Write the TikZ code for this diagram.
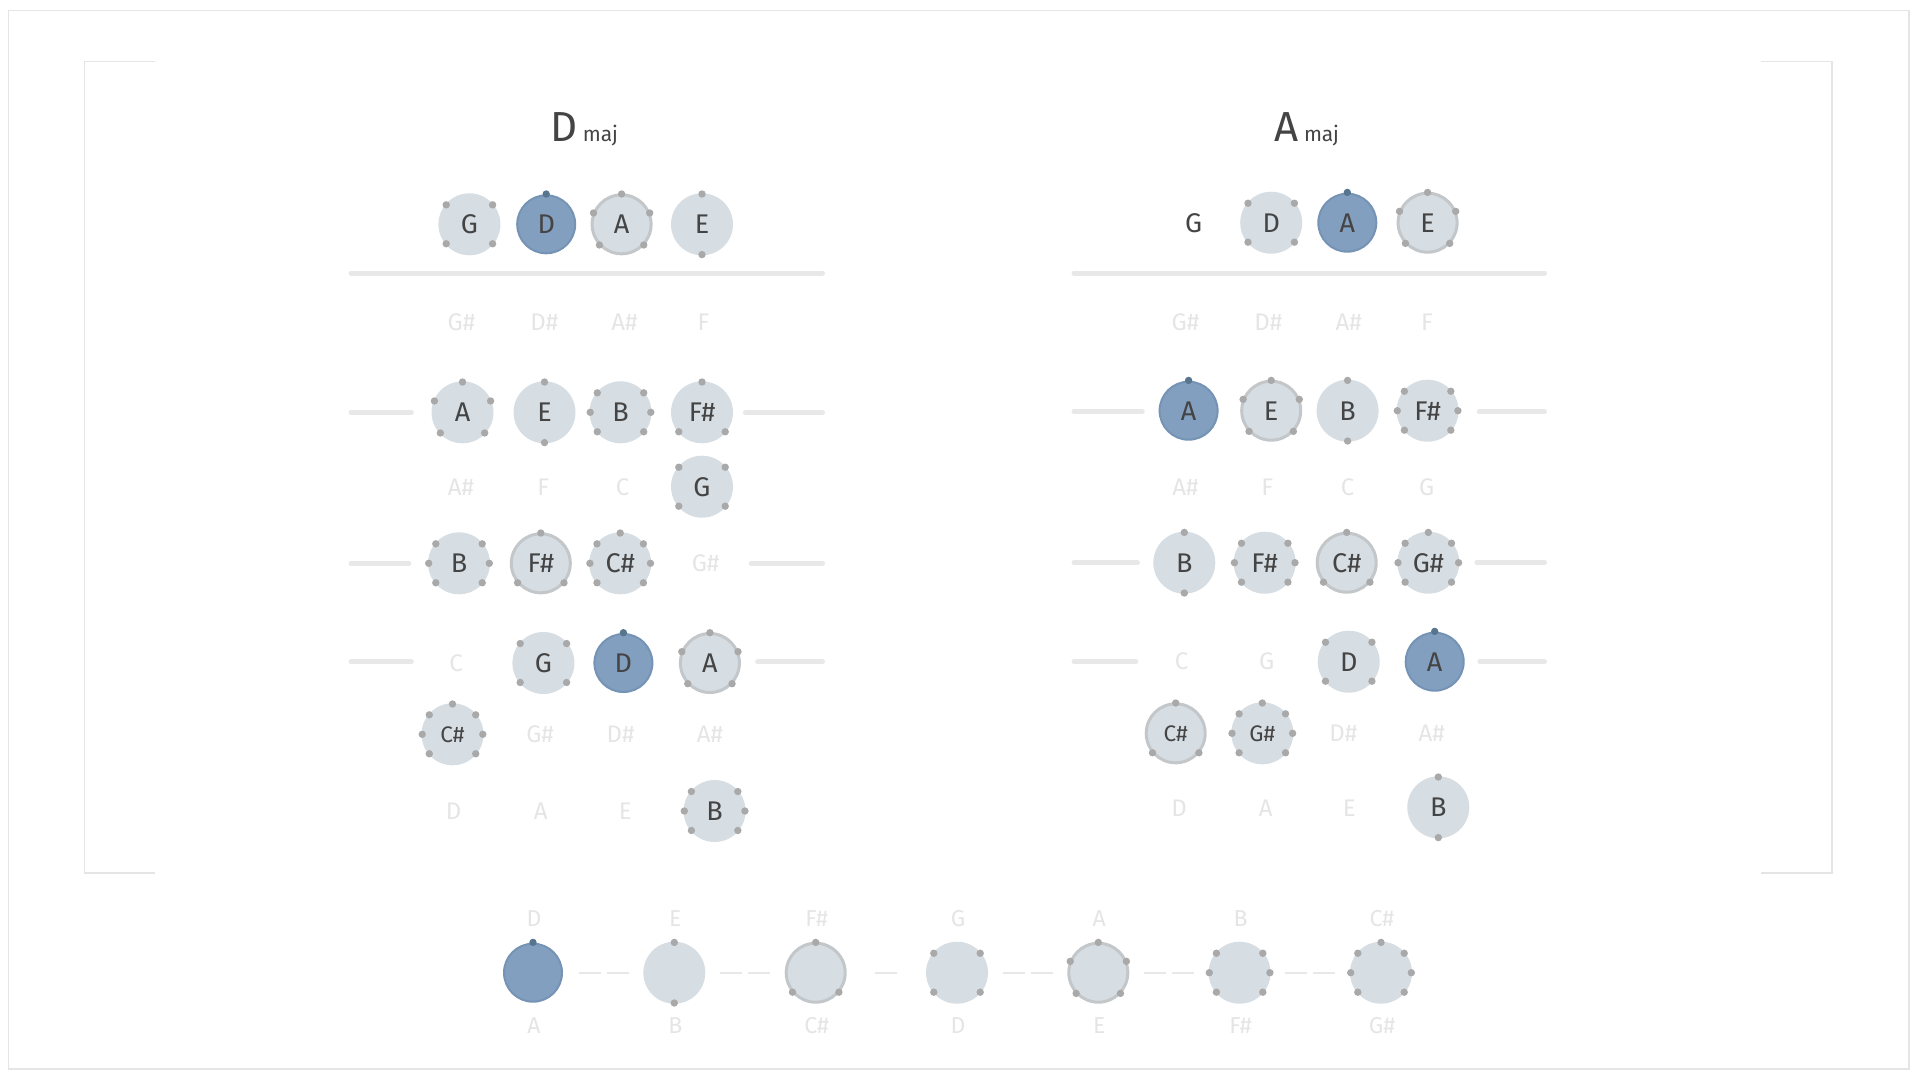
\documentclass[tikz,border=0pt]{standalone}
\usepackage{fontspec}
\setmainfont{Fira Sans}
\usetikzlibrary{calc}
\definecolor{nfill}{HTML}{D6DDE3}
\definecolor{rfill}{HTML}{829FBF}
\definecolor{rdraw}{HTML}{7593B4}
\definecolor{ringc}{HTML}{C3C7CA}
\definecolor{dotc}{HTML}{A9A9A9}
\definecolor{dotr}{HTML}{587590}
\definecolor{ntext}{HTML}{444444}
\definecolor{ghostc}{HTML}{E5E5E5}
\definecolor{linec}{HTML}{E8E8E8}
\definecolor{framec}{HTML}{E5E5E5}
\tikzset{
  note/.style={circle, fill=nfill, minimum size=62pt, inner sep=0pt, text=ntext, font=\fontsize{27}{30}\selectfont},
  smallnote/.style={note, font=\fontsize{22.5}{24}\selectfont},
  rootnote/.style={note, fill=rfill, draw=rdraw, line width=2pt, minimum size=58pt},
  ringnote/.style={note, draw=ringc, line width=3pt, minimum size=59pt},
  smallring/.style={ringnote, font=\fontsize{22.5}{24}\selectfont},
  plainlbl/.style={inner sep=0pt, text=ntext, font=\fontsize{27}{30}\selectfont},
  ghost/.style={inner sep=0pt, text=ghostc, font=\fontsize{24}{26}\selectfont},
  stripl/.style={inner sep=0pt, text=ghostc, font=\fontsize{23}{25}\selectfont},
  fret/.style={draw=linec, line width=5pt, line cap=round},
  dashseg/.style={draw=linec, line width=2pt},
  framel/.style={draw=framec, line width=1.5pt},
}
\def\Ai{90}
\def\Aii{90,270}
\def\Aiii{90,220,320}
\def\Aiv{40,140,220,320}
\def\Av{90,22,158,223,317}
\def\Avi{40,140,0,180,220,320}
\def\Avii{90,40,140,0,180,220,320}
\newcommand\nt[7]{\node[#1] (#2) at (#3,#4) {#5};\foreach \a in #6 {\fill[#7] (#2.center) ++(\a:30.3pt) circle (3.7pt);}}
\begin{document}
\begin{tikzpicture}[x=1pt,y=-1pt]
\useasboundingbox (0,0) rectangle (1920,1080);
% frames
\draw[framel] (8.5,10.5) rectangle (1909,1069);
\draw[framel] (155,61.3) -- (84.3,61.3) -- (84.3,873) -- (155,873);
\draw[framel] (1761,61.3) -- (1832,61.3) -- (1832,873) -- (1761,873);

% ===== Left panel : D maj =====
\node[anchor=base, text=ntext, inner sep=0pt] (tL) at (584.3,141.7) {\fontsize{42}{42}\selectfont D\hspace{5pt}\fontsize{21}{21}\selectfont maj};
\draw[fret] (351,273) -- (822.5,273);
\nt{note}{La0}{469.4}{224.3}{G}{\Aiv}{dotc}
\nt{rootnote}{La1}{546.2}{224.3}{D}{\Ai}{dotr}
\nt{ringnote}{La2}{621.6}{224.3}{A}{\Av}{dotc}
\nt{note}{La3}{702}{224.3}{E}{\Aii}{dotc}
\node[ghost] (Lg0) at (461.5,322.3) {G\#};
\node[ghost] (Lg1) at (544.4,322.3) {D\#};
\node[ghost] (Lg2) at (624.5,322.3) {A\#};
\node[ghost] (Lg3) at (703.4,322.3) {F};
\draw[fret] (351,412.3) -- (411.3,412.3);
\draw[fret] (745.4,412.3) -- (822.5,412.3);
\nt{note}{Lb0}{462.5}{412.3}{A}{\Av}{dotc}
\nt{note}{Lb1}{544.5}{412.3}{E}{\Aii}{dotc}
\nt{note}{Lb2}{620.5}{412.3}{B}{\Avi}{dotc}
\nt{note}{Lb3}{702}{412.3}{F\#}{\Aiii}{dotc}
\node[ghost] (Lh0) at (461,487.3) {A\#};
\node[ghost] (Lh1) at (543.2,487.3) {F};
\node[ghost] (Lh2) at (622.7,487.3) {C};
\nt{note}{Lh3}{702}{486.7}{G}{\Aiv}{dotc}
\draw[fret] (351,563.3) -- (408.8,563.3);
\draw[fret] (751.2,563.3) -- (822.5,563.3);
\nt{note}{Lc0}{459}{563.3}{B}{\Avi}{dotc}
\nt{ringnote}{Lc1}{540.8}{563.3}{F\#}{\Aiii}{dotc}
\nt{note}{Lc2}{620.2}{563.3}{C\#}{\Avii}{dotc}
\node[ghost] (Lc3) at (705.6,563.3) {G\#};
\draw[fret] (351,661.7) -- (411.3,661.7);
\draw[fret] (757.6,661.7) -- (822.5,661.7);
\node[ghost] (Ld0) at (456.1,663) {C};
\nt{note}{Ld1}{543.4}{663}{G}{\Aiv}{dotc}
\nt{rootnote}{Ld2}{623.4}{663}{D}{\Ai}{dotr}
\nt{ringnote}{Ld3}{709.9}{663}{A}{\Av}{dotc}
\nt{smallnote}{Le0}{452.5}{734.3}{C\#}{\Avii}{dotc}
\node[ghost] (Le1) at (540.1,734.3) {G\#};
\node[ghost] (Le2) at (620.5,734.3) {D\#};
\node[ghost] (Le3) at (709.9,734.3) {A\#};
\node[ghost] (Lf0) at (453.6,811) {D};
\node[ghost] (Lf1) at (540.8,811) {A};
\node[ghost] (Lf2) at (625.2,811) {E};
\nt{note}{Lf3}{714.6}{811}{B}{\Avi}{dotc}

% ===== Right panel : A maj =====
\node[anchor=base, text=ntext, inner sep=0pt] (tR) at (1307,141.7) {\fontsize{42}{42}\selectfont A\hspace{5pt}\fontsize{21}{21}\selectfont maj};
\draw[fret] (1074,273) -- (1544.5,273);
\node[plainlbl] (Ra0) at (1193.6,222.7) {G};
\nt{note}{Ra1}{1271.2}{222.7}{D}{\Aiv}{dotc}
\nt{rootnote}{Ra2}{1347.3}{222.7}{A}{\Ai}{dotr}
\nt{ringnote}{Ra3}{1427.6}{222.7}{E}{\Av}{dotc}
\node[ghost] (Rg0) at (1185.4,322.3) {G\#};
\node[ghost] (Rg1) at (1268.3,322.3) {D\#};
\node[ghost] (Rg2) at (1348.7,322.3) {A\#};
\node[ghost] (Rg3) at (1426.9,322.3) {F};
\draw[fret] (1074,411.5) -- (1142.3,411.5);
\draw[fret] (1479.3,411.5) -- (1544.5,411.5);
\nt{rootnote}{Rb0}{1188.6}{410.7}{A}{\Ai}{dotr}
\nt{ringnote}{Rb1}{1271.2}{410.7}{E}{\Av}{dotc}
\nt{note}{Rb2}{1347.6}{410.7}{B}{\Aii}{dotc}
\nt{note}{Rb3}{1427.6}{410.7}{F\#}{\Avi}{dotc}
\node[ghost] (Rh0) at (1185.4,487.3) {A\#};
\node[ghost] (Rh1) at (1267.2,487.3) {F};
\node[ghost] (Rh2) at (1347.6,487.3) {C};
\node[ghost] (Rh3) at (1426.6,487.3) {G};
\draw[fret] (1074,562.7) -- (1137.5,562.7);
\draw[fret] (1476.8,562.7) -- (1544.5,562.7);
\nt{note}{Rc0}{1184.3}{562.7}{B}{\Aii}{dotc}
\nt{note}{Rc1}{1264.7}{562.7}{F\#}{\Avi}{dotc}
\nt{ringnote}{Rc2}{1346.7}{562.7}{C\#}{\Aiii}{dotc}
\nt{note}{Rc3}{1428.3}{562.7}{G\#}{\Avii}{dotc}
\draw[fret] (1074,661.7) -- (1135.8,661.7);
\draw[fret] (1479.8,661.7) -- (1544.5,661.7);
\node[ghost] (Rd0) at (1181.7,661.7) {C};
\node[ghost] (Rd1) at (1266.7,661.7) {G};
\nt{note}{Rd2}{1348.7}{661.7}{D}{\Aiv}{dotc}
\nt{rootnote}{Rd3}{1434.7}{661.7}{A}{\Ai}{dotr}
\nt{smallring}{Re0}{1175.7}{733.3}{C\#}{\Aiii}{dotc}
\nt{smallnote}{Re1}{1262.3}{733.3}{G\#}{\Avii}{dotc}
\node[ghost] (Re2) at (1343.3,733.3) {D\#};
\node[ghost] (Re3) at (1431.7,733.3) {A\#};
\node[ghost] (Rf0) at (1179,808.3) {D};
\node[ghost] (Rf1) at (1265.7,808.3) {A};
\node[ghost] (Rf2) at (1349.3,808.3) {E};
\nt{note}{Rf3}{1438.3}{807.3}{B}{\Aii}{dotc}

% ===== Bottom strip =====
\nt{rootnote}{b1}{533}{972.7}{}{\Ai}{dotr}
\nt{note}{b2}{674.3}{972.7}{}{\Aii}{dotc}
\nt{ringnote}{b3}{815.7}{972.7}{}{\Aiii}{dotc}
\nt{note}{b4}{957}{972.7}{}{\Aiv}{dotc}
\nt{ringnote}{b5}{1098.3}{972.7}{}{\Av}{dotc}
\nt{note}{b6}{1239.6}{972.7}{}{\Avi}{dotc}
\nt{note}{b7}{1381}{972.7}{}{\Avii}{dotc}
\foreach \i/\t/\u in {1/D/A,2/E/B,3/F\#/C\#,4/G/D,5/A/E,6/B/F\#,7/C\#/G\#}{
  \node[stripl] (bt\i) at ($(b\i.center)+(1,-54.4)$) {\t};
  \node[stripl] (bb\i) at ($(b\i.center)+(1,53.3)$) {\u};
}
\foreach \p/\q in {1/2,2/3,4/5,5/6,6/7}{
  \draw[dashseg, dash pattern=on 22pt off 6pt, shorten <=45.65pt, shorten >=45.65pt] (b\p.center) -- (b\q.center);
}
\draw[dashseg, shorten <=59.65pt, shorten >=59.65pt] (b3.center) -- (b4.center);
\end{tikzpicture}
\end{document}
